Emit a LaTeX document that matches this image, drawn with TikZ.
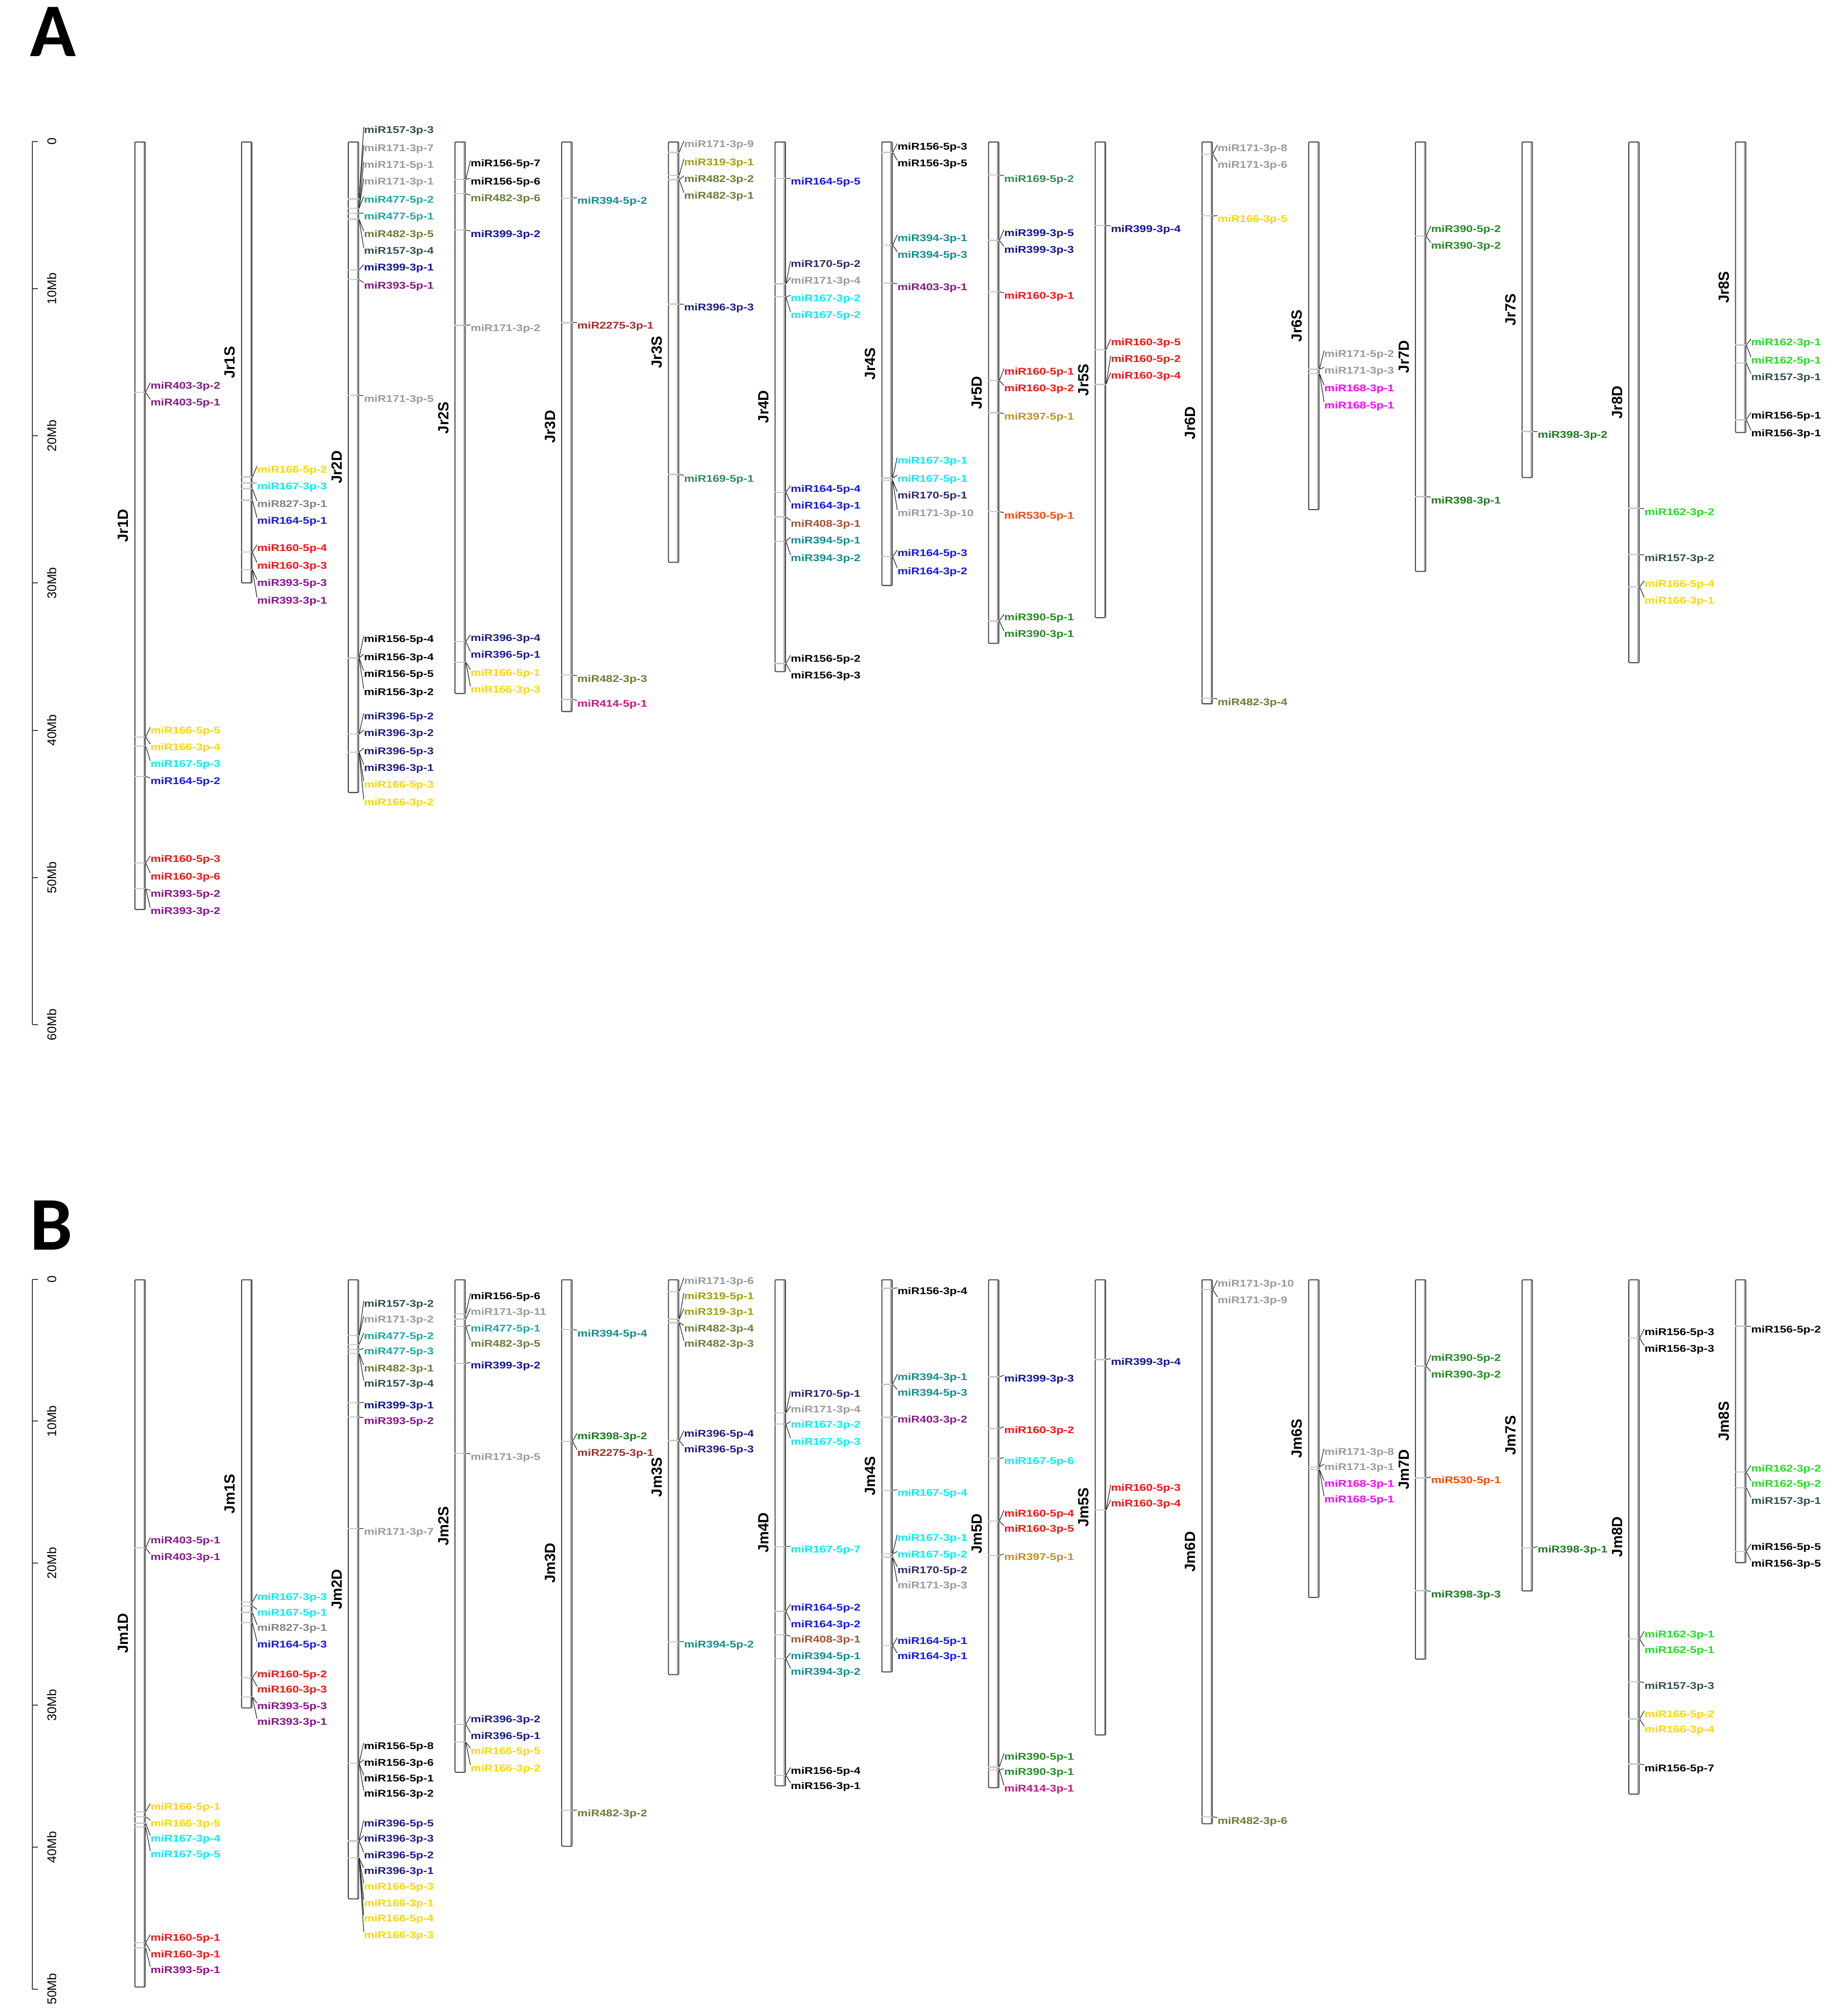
\documentclass[tikz,border=0pt]{standalone}
\usepackage{fontspec}
\usepackage{graphicx}
\setmainfont{Liberation Sans}
\newfontfamily\bigf{Carlito}
\usetikzlibrary{calc}
\definecolor{c157}{HTML}{2F4F4F}
\definecolor{c171}{HTML}{9A9A9A}
\definecolor{c827}{HTML}{808080}
\definecolor{c477}{HTML}{1FA59F}
\definecolor{c482}{HTML}{667F35}
\definecolor{c399}{HTML}{12129A}
\definecolor{c393}{HTML}{8B108B}
\definecolor{c403}{HTML}{851A8A}
\definecolor{c166}{HTML}{FFD700}
\definecolor{c167}{HTML}{00F0F5}
\definecolor{c164}{HTML}{1515F5}
\definecolor{c160}{HTML}{FF1010}
\definecolor{c396}{HTML}{1C1C84}
\definecolor{c394}{HTML}{138C8C}
\definecolor{c2275}{HTML}{A52A2A}
\definecolor{c414}{HTML}{C71585}
\definecolor{c319}{HTML}{9E9E10}
\definecolor{c169}{HTML}{2E8B57}
\definecolor{c170}{HTML}{2A2A6E}
\definecolor{c408}{HTML}{A0522D}
\definecolor{c530}{HTML}{FF4500}
\definecolor{c390}{HTML}{228B22}
\definecolor{c397}{HTML}{C09020}
\definecolor{c168}{HTML}{FF00FF}
\definecolor{c398}{HTML}{1C7A1C}
\definecolor{c162}{HTML}{22DD22}
\newcounter{mirc}
\newcommand\labfont{\fontsize{7.6}{8}\selectfont\bfseries}
\newcommand\chrfont{\fontsize{11.5}{12}\selectfont\bfseries}
\newcommand\axfont{\fontsize{9.8}{10}\selectfont}
\tikzset{
  chrbox/.style={draw=black!72, fill=white, line width=0.8pt, rounded corners=0.8pt, inner sep=0pt, minimum width=8pt},
  chrname/.style={rotate=90, anchor=south, font=\chrfont, inner sep=0pt},
  mirlab/.style={anchor=base west, inner sep=0pt, font=\labfont},
  tickl/.style={draw=black!22, line width=0.9pt},
  shade/.style={draw=black!35, line width=1pt},
  conn/.style={draw=black!85, line width=0.5pt},
  axisl/.style={draw=black!75, line width=0.8pt},
  axlab/.style={rotate=90, anchor=south, inner sep=0pt, font=\axfont},
  panel/.style={anchor=base west, inner sep=0pt, font=\bigf\bfseries\fontsize{59}{60}\selectfont}
}
\newcommand\chrom[5]{%
  \pgfmathsetmacro\chh{#4-#3}%
  \node[chrbox, anchor=north west, minimum height=\chh pt] (#1) at (#2,#3) {};
  \draw[shade] ([xshift=-1.3pt,yshift=-1pt]#1.north east) -- ([xshift=-1.3pt,yshift=1pt]#1.south east);
  \node[chrname] (#1n) at ([xshift=-4.4pt]#1.west) {#5};
}
\newcommand\mir[5]{%
  \stepcounter{mirc}%
  \pgfmathsetmacro\mby{#3+2.7}%
  \coordinate (t\themirc) at (#1.east |- 0,#2);
  \coordinate (w\themirc) at (#1.west |- 0,#2);
  \coordinate (l\themirc) at (#1.east |- 0,\mby);
  \draw[tickl] (w\themirc) -- (t\themirc);
  \node[mirlab, text=#4] (m\themirc) at ([xshift=3.6pt]l\themirc) {\scalebox{1.2}[1]{#5}};
  \draw[conn] (t\themirc) -- ([yshift=5pt]m\themirc.base west);
}
\begin{document}
\begin{tikzpicture}[x=1pt,y=-1pt]
\useasboundingbox (0,0) rectangle (1431,1568);
\fill[white] (0,0) rectangle (1431,1568);
% panel letters
\node[panel] (pA) at (23,44) {A};
\node[panel] (pB) at (23,972) {B};
% axis A
\coordinate (aAt) at (25,110); \coordinate (aAb) at (25,797);
\draw[axisl] (aAt) -- (aAb);
\foreach \k/\t in {0/0,1/10Mb,2/20Mb,3/30Mb,4/40Mb,5/50Mb,6/60Mb}{
  \pgfmathsetmacro\yy{110+114.5*\k}
  \coordinate (aAk\k) at (25,\yy);
  \draw[axisl] (aAk\k) -- ++(4.6,0);
  \node[axlab] (aAl\k) at (44,\yy) {\t};
}
% axis B
\coordinate (aBt) at (25,995); \coordinate (aBb) at (25,1547);
\draw[axisl] (aBt) -- (aBb);
\foreach \k/\t in {0/0,1/10Mb,2/20Mb,3/30Mb,4/40Mb,5/50Mb}{
  \pgfmathsetmacro\yy{995+110.4*\k}
  \coordinate (aBk\k) at (25,\yy);
  \draw[axisl] (aBk\k) -- ++(4.6,0);
  \node[axlab] (aBl\k) at (44,\yy) {\t};
}
% ================= panel A chromosomes
\chrom{A1D}{104.5}{110}{707}{Jr1D}
\chrom{A1S}{187.5}{110}{453}{Jr1S}
\chrom{A2D}{270.5}{110}{616}{Jr2D}
\chrom{A2S}{353.5}{110}{539}{Jr2S}
\chrom{A3D}{436.5}{110}{553}{Jr3D}
\chrom{A3S}{519.5}{110}{437}{Jr3S}
\chrom{A4D}{602.5}{110}{522}{Jr4D}
\chrom{A4S}{685.5}{110}{455}{Jr4S}
\chrom{A5D}{768.5}{110}{500}{Jr5D}
\chrom{A5S}{851.5}{110}{480}{Jr5S}
\chrom{A6D}{934.5}{110}{547}{Jr6D}
\chrom{A6S}{1017.5}{110}{396}{Jr6S}
\chrom{A7D}{1100.5}{110}{444}{Jr7D}
\chrom{A7S}{1183.5}{110}{371}{Jr7S}
\chrom{A8D}{1266.5}{110}{515}{Jr8D}
\chrom{A8S}{1349.5}{110}{336}{Jr8S}
% A1D
\mir{A1D}{305}{300}{c403}{miR403-3p-2}
\mir{A1D}{305}{313}{c403}{miR403-5p-1}
\mir{A1D}{573.3}{568}{c166}{miR166-5p-5}
\mir{A1D}{573.3}{581}{c166}{miR166-3p-4}
\mir{A1D}{580.3}{594}{c167}{miR167-5p-3}
\mir{A1D}{603.8}{607.5}{c164}{miR164-5p-2}
\mir{A1D}{671.2}{668}{c160}{miR160-5p-3}
\mir{A1D}{671.2}{681.5}{c160}{miR160-3p-6}
\mir{A1D}{691.2}{695}{c393}{miR393-5p-2}
\mir{A1D}{691.2}{708.3}{c393}{miR393-3p-2}
% A1S
\mir{A1S}{371}{365}{c166}{miR166-5p-2}
\mir{A1S}{375.7}{378}{c167}{miR167-3p-3}
\mir{A1S}{380}{392}{c827}{miR827-3p-1}
\mir{A1S}{389}{405}{c164}{miR164-5p-1}
\mir{A1S}{429.4}{426}{c160}{miR160-5p-4}
\mir{A1S}{429.4}{440}{c160}{miR160-3p-3}
\mir{A1S}{443}{453}{c393}{miR393-5p-3}
\mir{A1S}{443}{467}{c393}{miR393-3p-1}
% A2D
\mir{A2D}{154.7}{101}{c157}{miR157-3p-3}
\mir{A2D}{154.7}{115}{c171}{miR171-3p-7}
\mir{A2D}{162}{128}{c171}{miR171-5p-1}
\mir{A2D}{162}{141}{c171}{miR171-3p-1}
\mir{A2D}{162}{155}{c477}{miR477-5p-2}
\mir{A2D}{166}{168}{c477}{miR477-5p-1}
\mir{A2D}{170.4}{182}{c482}{miR482-3p-5}
\mir{A2D}{170.4}{195}{c157}{miR157-3p-4}
\mir{A2D}{210}{208}{c399}{miR399-3p-1}
\mir{A2D}{217.5}{222}{c393}{miR393-5p-1}
\mir{A2D}{307.5}{310}{c171}{miR171-3p-5}
\mir{A2D}{511.7}{497}{black}{miR156-5p-4}
\mir{A2D}{511.7}{511}{black}{miR156-3p-4}
\mir{A2D}{511.7}{524}{black}{miR156-5p-5}
\mir{A2D}{511.7}{538}{black}{miR156-3p-2}
\mir{A2D}{571}{557}{c396}{miR396-5p-2}
\mir{A2D}{571}{570}{c396}{miR396-3p-2}
\mir{A2D}{585}{584}{c396}{miR396-5p-3}
\mir{A2D}{585}{597}{c396}{miR396-3p-1}
\mir{A2D}{585}{610}{c166}{miR166-5p-3}
\mir{A2D}{585}{624}{c166}{miR166-3p-2}
% A2S
\mir{A2S}{139.5}{127}{black}{miR156-5p-7}
\mir{A2S}{139.5}{141}{black}{miR156-5p-6}
\mir{A2S}{150.7}{154}{c482}{miR482-3p-6}
\mir{A2S}{179}{182}{c399}{miR399-3p-2}
\mir{A2S}{253}{255}{c171}{miR171-3p-2}
\mir{A2S}{499}{496}{c396}{miR396-3p-4}
\mir{A2S}{499}{509}{c396}{miR396-5p-1}
\mir{A2S}{515}{523}{c166}{miR166-5p-1}
\mir{A2S}{515}{536}{c166}{miR166-3p-3}
% A3D
\mir{A3D}{154}{156}{c394}{miR394-5p-2}
\mir{A3D}{251}{253}{c2275}{miR2275-3p-1}
\mir{A3D}{525}{528}{c482}{miR482-3p-3}
\mir{A3D}{544}{547}{c414}{miR414-5p-1}
% A3S
\mir{A3S}{118.6}{112}{c171}{miR171-3p-9}
\mir{A3S}{136.5}{126}{c319}{miR319-3p-1}
\mir{A3S}{139.8}{139}{c482}{miR482-3p-2}
\mir{A3S}{139.8}{152}{c482}{miR482-3p-1}
\mir{A3S}{236.5}{239}{c396}{miR396-3p-3}
\mir{A3S}{369}{372}{c169}{miR169-5p-1}
% A4D
\mir{A4D}{138.9}{141}{c164}{miR164-5p-5}
\mir{A4D}{220.8}{205}{c170}{miR170-5p-2}
\mir{A4D}{220.8}{218}{c171}{miR171-3p-4}
\mir{A4D}{230.9}{232}{c167}{miR167-3p-2}
\mir{A4D}{230.9}{245}{c167}{miR167-5p-2}
\mir{A4D}{383}{380}{c164}{miR164-5p-4}
\mir{A4D}{383}{393}{c164}{miR164-3p-1}
\mir{A4D}{402}{407}{c408}{miR408-3p-1}
\mir{A4D}{421}{420}{c394}{miR394-5p-1}
\mir{A4D}{421}{434}{c394}{miR394-3p-2}
\mir{A4D}{516}{512}{black}{miR156-5p-2}
\mir{A4D}{516}{525}{black}{miR156-3p-3}
% A4S
\mir{A4S}{118.6}{114}{black}{miR156-5p-3}
\mir{A4S}{118.6}{127}{black}{miR156-3p-5}
\mir{A4S}{190.7}{185}{c394}{miR394-3p-1}
\mir{A4S}{190.7}{198}{c394}{miR394-5p-3}
\mir{A4S}{220.2}{223}{c403}{miR403-3p-1}
\mir{A4S}{371.8}{358}{c167}{miR167-3p-1}
\mir{A4S}{371.8}{372}{c167}{miR167-5p-1}
\mir{A4S}{373.6}{385}{c170}{miR170-5p-1}
\mir{A4S}{373.6}{399}{c171}{miR171-3p-10}
\mir{A4S}{433}{430}{c164}{miR164-5p-3}
\mir{A4S}{433}{444}{c164}{miR164-3p-2}
% A5D
\mir{A5D}{136}{139}{c169}{miR169-5p-2}
\mir{A5D}{187}{181}{c399}{miR399-3p-5}
\mir{A5D}{187}{194}{c399}{miR399-3p-3}
\mir{A5D}{227}{230}{c160}{miR160-3p-1}
\mir{A5D}{296}{289}{c160}{miR160-5p-1}
\mir{A5D}{296}{302}{c160}{miR160-3p-2}
\mir{A5D}{321}{324}{c397}{miR397-5p-1}
\mir{A5D}{398}{401}{c530}{miR530-5p-1}
\mir{A5D}{483}{480}{c390}{miR390-5p-1}
\mir{A5D}{483}{493}{c390}{miR390-3p-1}
% A5S
\mir{A5S}{175.4}{178}{c399}{miR399-3p-4}
\mir{A5S}{272}{266}{c160}{miR160-3p-5}
\mir{A5S}{299}{279}{c160}{miR160-5p-2}
\mir{A5S}{299}{292}{c160}{miR160-3p-4}
% A6D
\mir{A6D}{119.8}{115}{c171}{miR171-3p-8}
\mir{A6D}{119.8}{128}{c171}{miR171-3p-6}
\mir{A6D}{168}{170}{c166}{miR166-3p-5}
\mir{A6D}{543}{546}{c482}{miR482-3p-4}
% A6S
\mir{A6S}{287.2}{275}{c171}{miR171-5p-2}
\mir{A6S}{287.2}{288}{c171}{miR171-3p-3}
\mir{A6S}{290.5}{302}{c168}{miR168-3p-1}
\mir{A6S}{290.5}{315}{c168}{miR168-5p-1}
% A7D
\mir{A7D}{183.7}{178}{c390}{miR390-5p-2}
\mir{A7D}{183.7}{191}{c390}{miR390-3p-2}
\mir{A7D}{386.3}{389}{c398}{miR398-3p-1}
% A7S
\mir{A7S}{335.6}{338}{c398}{miR398-3p-2}
% A8D
\mir{A8D}{395.3}{398}{c162}{miR162-3p-2}
\mir{A8D}{431.4}{434}{c157}{miR157-3p-2}
\mir{A8D}{456.5}{454}{c166}{miR166-5p-4}
\mir{A8D}{456.5}{467}{c166}{miR166-3p-1}
% A8S
\mir{A8S}{268.4}{266}{c162}{miR162-3p-1}
\mir{A8S}{268.4}{280}{c162}{miR162-5p-1}
\mir{A8S}{282.4}{293}{c157}{miR157-3p-1}
\mir{A8S}{326.5}{323}{black}{miR156-5p-1}
\mir{A8S}{326.5}{337}{black}{miR156-3p-1}
% ================= panel B chromosomes
\chrom{B1D}{104.5}{995}{1545}{Jm1D}
\chrom{B1S}{187.5}{995}{1328}{Jm1S}
\chrom{B2D}{270.5}{995}{1476.5}{Jm2D}
\chrom{B2S}{353.5}{995}{1378}{Jm2S}
\chrom{B3D}{436.5}{995}{1435.6}{Jm3D}
\chrom{B3S}{519.5}{995}{1302}{Jm3S}
\chrom{B4D}{602.5}{995}{1388.5}{Jm4D}
\chrom{B4S}{685.5}{995}{1300}{Jm4S}
\chrom{B5D}{768.5}{995}{1390}{Jm5D}
\chrom{B5S}{851.5}{995}{1349}{Jm5S}
\chrom{B6D}{934.5}{995}{1418}{Jm6D}
\chrom{B6S}{1017.5}{995}{1242}{Jm6S}
\chrom{B7D}{1100.5}{995}{1290}{Jm7D}
\chrom{B7S}{1183.5}{995}{1237}{Jm7S}
\chrom{B8D}{1266.5}{995}{1395}{Jm8D}
\chrom{B8S}{1349.5}{995}{1215}{Jm8S}
% B1D
\mir{B1D}{1204}{1198}{c403}{miR403-5p-1}
\mir{B1D}{1204}{1211}{c403}{miR403-3p-1}
\mir{B1D}{1409}{1405}{c166}{miR166-5p-1}
\mir{B1D}{1413}{1418}{c166}{miR166-3p-5}
\mir{B1D}{1418}{1430}{c167}{miR167-3p-4}
\mir{B1D}{1421}{1442}{c167}{miR167-5p-5}
\mir{B1D}{1511}{1507}{c160}{miR160-5p-1}
\mir{B1D}{1511}{1520}{c160}{miR160-3p-1}
\mir{B1D}{1515}{1532}{c393}{miR393-5p-1}
% B1S
\mir{B1S}{1246}{1242}{c167}{miR167-3p-3}
\mir{B1S}{1249}{1254}{c167}{miR167-5p-1}
\mir{B1S}{1254}{1266}{c827}{miR827-3p-1}
\mir{B1S}{1262}{1279}{c164}{miR164-5p-3}
\mir{B1S}{1305}{1302}{c160}{miR160-5p-2}
\mir{B1S}{1305}{1314}{c160}{miR160-3p-3}
\mir{B1S}{1320}{1327}{c393}{miR393-5p-3}
\mir{B1S}{1320}{1339}{c393}{miR393-3p-1}
% B2D
\mir{B2D}{1038.8}{1014}{c157}{miR157-3p-2}
\mir{B2D}{1038.8}{1026}{c171}{miR171-3p-2}
\mir{B2D}{1045.8}{1039}{c477}{miR477-5p-2}
\mir{B2D}{1049.8}{1051}{c477}{miR477-5p-3}
\mir{B2D}{1052.6}{1064}{c482}{miR482-3p-1}
\mir{B2D}{1052.6}{1076}{c157}{miR157-3p-4}
\mir{B2D}{1091}{1093}{c399}{miR399-3p-1}
\mir{B2D}{1102}{1105}{c393}{miR393-5p-2}
\mir{B2D}{1189}{1191}{c171}{miR171-3p-7}
\mir{B2D}{1371.5}{1358}{black}{miR156-5p-8}
\mir{B2D}{1371.5}{1371}{black}{miR156-3p-6}
\mir{B2D}{1371.5}{1383}{black}{miR156-5p-1}
\mir{B2D}{1371.5}{1395}{black}{miR156-3p-2}
\mir{B2D}{1431.8}{1418}{c396}{miR396-5p-5}
\mir{B2D}{1431.8}{1430}{c396}{miR396-3p-3}
\mir{B2D}{1431.8}{1443}{c396}{miR396-5p-2}
\mir{B2D}{1445}{1455}{c396}{miR396-3p-1}
\mir{B2D}{1445}{1467}{c166}{miR166-5p-3}
\mir{B2D}{1445}{1480}{c166}{miR166-3p-1}
\mir{B2D}{1445}{1492}{c166}{miR166-5p-4}
\mir{B2D}{1445}{1505}{c166}{miR166-3p-3}
% B2S
\mir{B2S}{1022}{1008}{black}{miR156-5p-6}
\mir{B2S}{1026}{1020}{c171}{miR171-3p-11}
\mir{B2S}{1031.6}{1033}{c477}{miR477-5p-1}
\mir{B2S}{1031.6}{1045}{c482}{miR482-3p-5}
\mir{B2S}{1060.3}{1062}{c399}{miR399-3p-2}
\mir{B2S}{1130.5}{1133}{c171}{miR171-3p-5}
\mir{B2S}{1341.2}{1337}{c396}{miR396-3p-2}
\mir{B2S}{1341.2}{1350}{c396}{miR396-5p-1}
\mir{B2S}{1355}{1362}{c166}{miR166-5p-5}
\mir{B2S}{1355}{1375}{c166}{miR166-3p-2}
% B3D
\mir{B3D}{1034}{1037}{c394}{miR394-5p-4}
\mir{B3D}{1121}{1117}{c398}{miR398-3p-2}
\mir{B3D}{1121}{1130}{c2275}{miR2275-3p-1}
\mir{B3D}{1408}{1410}{c482}{miR482-3p-2}
% B3S
\mir{B3S}{1004.5}{996}{c171}{miR171-3p-6}
\mir{B3S}{1026}{1008}{c319}{miR319-5p-1}
\mir{B3S}{1026}{1020}{c319}{miR319-3p-1}
\mir{B3S}{1028.7}{1033}{c482}{miR482-3p-4}
\mir{B3S}{1028.7}{1045}{c482}{miR482-3p-3}
\mir{B3S}{1120.4}{1115}{c396}{miR396-5p-4}
\mir{B3S}{1120.4}{1127}{c396}{miR396-5p-3}
\mir{B3S}{1276.9}{1279}{c394}{miR394-5p-2}
% B4D
\mir{B4D}{1098.9}{1084}{c170}{miR170-5p-1}
\mir{B4D}{1098.9}{1096}{c171}{miR171-3p-4}
\mir{B4D}{1107.7}{1108}{c167}{miR167-3p-2}
\mir{B4D}{1107.7}{1121}{c167}{miR167-5p-3}
\mir{B4D}{1203}{1205}{c167}{miR167-5p-7}
\mir{B4D}{1253.2}{1250}{c164}{miR164-5p-2}
\mir{B4D}{1253.2}{1263}{c164}{miR164-3p-2}
\mir{B4D}{1271.5}{1275}{c408}{miR408-3p-1}
\mir{B4D}{1290}{1288}{c394}{miR394-5p-1}
\mir{B4D}{1290}{1300}{c394}{miR394-3p-2}
\mir{B4D}{1380.7}{1377}{black}{miR156-5p-4}
\mir{B4D}{1380.7}{1389}{black}{miR156-3p-1}
% B4S
\mir{B4S}{1002}{1004}{black}{miR156-3p-4}
\mir{B4S}{1076.7}{1071}{c394}{miR394-3p-1}
\mir{B4S}{1076.7}{1083}{c394}{miR394-5p-3}
\mir{B4S}{1102.3}{1104}{c403}{miR403-3p-2}
\mir{B4S}{1159.1}{1161}{c167}{miR167-5p-4}
\mir{B4S}{1208.6}{1196}{c167}{miR167-3p-1}
\mir{B4S}{1208.6}{1209}{c167}{miR167-5p-2}
\mir{B4S}{1211.2}{1221}{c170}{miR170-5p-2}
\mir{B4S}{1211.2}{1233}{c171}{miR171-3p-3}
\mir{B4S}{1279.9}{1276}{c164}{miR164-5p-1}
\mir{B4S}{1279.9}{1288}{c164}{miR164-3p-1}
% B5D
\mir{B5D}{1070.8}{1072}{c399}{miR399-3p-3}
\mir{B5D}{1111}{1112}{c160}{miR160-3p-2}
\mir{B5D}{1134.4}{1136}{c167}{miR167-5p-6}
\mir{B5D}{1183}{1177}{c160}{miR160-5p-4}
\mir{B5D}{1183}{1189}{c160}{miR160-3p-5}
\mir{B5D}{1209.7}{1211}{c397}{miR397-5p-1}
\mir{B5D}{1374.3}{1366}{c390}{miR390-5p-1}
\mir{B5D}{1376.4}{1378}{c390}{miR390-3p-1}
\mir{B5D}{1376.4}{1391}{c414}{miR414-3p-1}
% B5S
\mir{B5S}{1057.4}{1059}{c399}{miR399-3p-4}
\mir{B5S}{1174.5}{1157}{c160}{miR160-5p-3}
\mir{B5S}{1174.5}{1169}{c160}{miR160-3p-4}
% B6D
\mir{B6D}{1003}{998}{c171}{miR171-3p-10}
\mir{B6D}{1003}{1011}{c171}{miR171-3p-9}
\mir{B6D}{1413}{1416}{c482}{miR482-3p-6}
% B6S
\mir{B6S}{1141}{1129}{c171}{miR171-3p-8}
\mir{B6S}{1141}{1141}{c171}{miR171-3p-1}
\mir{B6S}{1143}{1154}{c168}{miR168-3p-1}
\mir{B6S}{1143}{1166}{c168}{miR168-5p-1}
% B7D
\mir{B7D}{1062.6}{1056}{c390}{miR390-5p-2}
\mir{B7D}{1062.6}{1069}{c390}{miR390-3p-2}
\mir{B7D}{1149.5}{1151}{c530}{miR530-5p-1}
\mir{B7D}{1237.1}{1240}{c398}{miR398-3p-3}
% B7S
\mir{B7S}{1204}{1205}{c398}{miR398-3p-1}
% B8D
\mir{B8D}{1040.7}{1036}{black}{miR156-5p-3}
\mir{B8D}{1040.7}{1049}{black}{miR156-3p-3}
\mir{B8D}{1274.8}{1271}{c162}{miR162-3p-1}
\mir{B8D}{1274.8}{1283}{c162}{miR162-5p-1}
\mir{B8D}{1308}{1311}{c157}{miR157-3p-3}
\mir{B8D}{1337}{1333}{c166}{miR166-5p-2}
\mir{B8D}{1337}{1345}{c166}{miR166-3p-4}
\mir{B8D}{1372}{1375}{black}{miR156-5p-7}
% B8S
\mir{B8S}{1031.5}{1034}{black}{miR156-5p-2}
\mir{B8S}{1145}{1142}{c162}{miR162-3p-2}
\mir{B8S}{1145}{1154}{c162}{miR162-5p-2}
\mir{B8S}{1157}{1167}{c157}{miR157-3p-1}
\mir{B8S}{1206.6}{1203}{black}{miR156-5p-5}
\mir{B8S}{1206.6}{1216}{black}{miR156-3p-5}
\end{tikzpicture}
\end{document}
